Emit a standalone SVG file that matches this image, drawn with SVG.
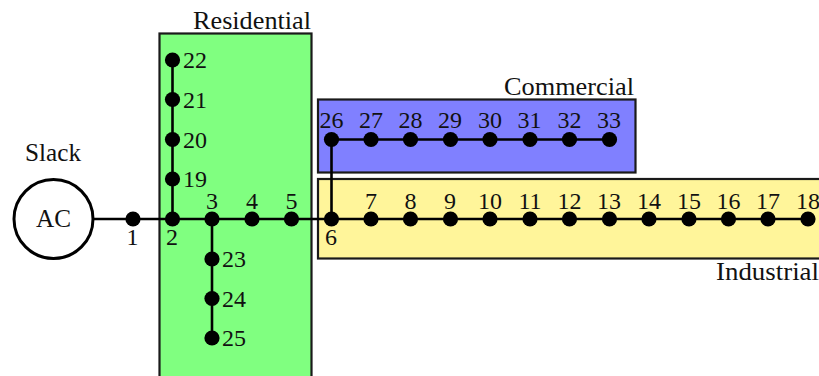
<svg xmlns="http://www.w3.org/2000/svg" width="819" height="376" viewBox="0 0 819 376">
<style>
text{font-family:"Liberation Serif","Times New Roman",serif;font-size:24px;fill:#111}
text.t{font-size:26px}
.m{text-anchor:middle}
.zone{stroke:#1a1a1a;stroke-width:2.2}
.w{fill:none;stroke:#000;stroke-width:2.6}
circle.n{fill:#000}
</style>
<defs><circle id="d" class="n" r="7.6"/></defs>
<g id="residential"><rect class="zone" x="159.5" y="33.5" width="152" height="350" fill="#80ff80"/><text class="t" x="193" y="28.500" textLength="118" lengthAdjust="spacingAndGlyphs">Residential</text></g>
<g id="commercial"><rect class="zone" x="318" y="99.5" width="317.5" height="73" fill="#8080ff"/><text class="t" x="504" y="95" textLength="130" lengthAdjust="spacingAndGlyphs">Commercial</text></g>
<g id="industrial"><rect class="zone" x="318" y="179" width="510" height="79.5" fill="#fff59a"/><text class="t" x="716" y="280" textLength="103" lengthAdjust="spacingAndGlyphs">Industrial</text></g>
<g id="connectors">
<path class="w" d="M93 219H808M172.500 219V60M212 219V338M331.500 219V139.500H609.500"/>
</g>
<g id="slack"><circle cx="53.500" cy="219" r="39.500" fill="#fff" stroke="#000" stroke-width="3"/><text class="t m" x="53.500" y="227" textLength="35" lengthAdjust="spacingAndGlyphs">AC</text><text class="t" x="25" y="161" textLength="56" lengthAdjust="spacingAndGlyphs">Slack</text></g>
<g id="n1"><use href="#d" x="133" y="219"/><text class="m" x="132.500" y="244.500">1</text></g>
<g id="n2"><use href="#d" x="172.500" y="219"/><text class="m" x="172" y="244.500">2</text></g>
<g id="n3"><use href="#d" x="212" y="219"/><text class="m" x="212" y="208.500">3</text></g>
<g id="n4"><use href="#d" x="252" y="219"/><text class="m" x="252" y="208.500">4</text></g>
<g id="n5"><use href="#d" x="291.500" y="219"/><text class="m" x="291.500" y="208.500">5</text></g>
<g id="n6"><use href="#d" x="331.500" y="219"/><text class="m" x="331" y="245">6</text></g>
<g id="n7"><use href="#d" x="371" y="219"/><text class="m" x="371" y="208.500">7</text></g>
<g id="n8"><use href="#d" x="410.500" y="219"/><text class="m" x="410.500" y="208.500">8</text></g>
<g id="n9"><use href="#d" x="450.500" y="219"/><text class="m" x="450" y="208.500">9</text></g>
<g id="n10"><use href="#d" x="490" y="219"/><text class="m" x="490" y="208.500">10</text></g>
<g id="n11"><use href="#d" x="530" y="219"/><text class="m" x="530" y="208.500">11</text></g>
<g id="n12"><use href="#d" x="569.500" y="219"/><text class="m" x="569.500" y="208.500">12</text></g>
<g id="n13"><use href="#d" x="609.500" y="219"/><text class="m" x="609" y="208.500">13</text></g>
<g id="n14"><use href="#d" x="649" y="219"/><text class="m" x="649" y="208.500">14</text></g>
<g id="n15"><use href="#d" x="689" y="219"/><text class="m" x="689" y="208.500">15</text></g>
<g id="n16"><use href="#d" x="728.500" y="219"/><text class="m" x="728.500" y="208.500">16</text></g>
<g id="n17"><use href="#d" x="768" y="219"/><text class="m" x="768" y="208.500">17</text></g>
<g id="n18"><use href="#d" x="808" y="219"/><text class="m" x="808" y="208.500">18</text></g>
<g id="n19"><use href="#d" x="172.500" y="179"/><text x="183" y="187">19</text></g>
<g id="n20"><use href="#d" x="172.500" y="139.500"/><text x="183" y="147.500">20</text></g>
<g id="n21"><use href="#d" x="172.500" y="99.500"/><text x="183" y="107.500">21</text></g>
<g id="n22"><use href="#d" x="172.500" y="60"/><text x="183" y="67.500">22</text></g>
<g id="n23"><use href="#d" x="212" y="259"/><text x="222" y="267">23</text></g>
<g id="n24"><use href="#d" x="212" y="298.500"/><text x="222" y="306.500">24</text></g>
<g id="n25"><use href="#d" x="212" y="338"/><text x="222" y="346">25</text></g>
<g id="n26"><use href="#d" x="331.500" y="139.500"/><text class="m" x="331.500" y="128">26</text></g>
<g id="n27"><use href="#d" x="371" y="139.500"/><text class="m" x="371" y="128">27</text></g>
<g id="n28"><use href="#d" x="410.500" y="139.500"/><text class="m" x="410.500" y="128">28</text></g>
<g id="n29"><use href="#d" x="450.500" y="139.500"/><text class="m" x="450" y="128">29</text></g>
<g id="n30"><use href="#d" x="490" y="139.500"/><text class="m" x="490" y="128">30</text></g>
<g id="n31"><use href="#d" x="530" y="139.500"/><text class="m" x="529.500" y="128">31</text></g>
<g id="n32"><use href="#d" x="569.500" y="139.500"/><text class="m" x="569.500" y="128">32</text></g>
<g id="n33"><use href="#d" x="609.500" y="139.500"/><text class="m" x="609" y="128">33</text></g>
</svg>
